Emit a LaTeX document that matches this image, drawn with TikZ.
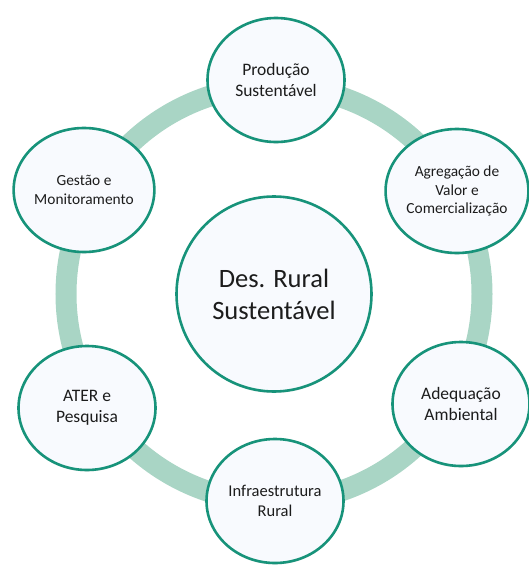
\documentclass[tikz,border=0pt]{standalone}
\usepackage{fontspec}
\setmainfont{Carlito}
\usetikzlibrary{positioning, shadows, shapes.geometric}
\definecolor{ringgreen}{HTML}{A9D5C5}
\definecolor{rimgreen}{HTML}{17937A}
\definecolor{discfill}{HTML}{F8FAFE}
\definecolor{labeltext}{HTML}{1C1C1C}

\begin{document}
\begin{tikzpicture}[x=1pt, y=-1pt,
			disc/.style={ellipse, draw=rimgreen, line width=2.6pt, fill=discfill, minimum width=137pt, minimum height=124pt, inner sep=0pt, align=center, text=labeltext, font=\fontsize{17.5}{21}\selectfont, drop shadow={opacity=0.18, shadow xshift=0pt, shadow yshift=-1.5pt}},
			smalldisc/.style={disc, font=\fontsize{15.4}{18.5}\selectfont},
			hub/.style={disc, circle, minimum size=195pt, font=\fontsize{26.5}{32}\selectfont}]
			\useasboundingbox (0, 0) rectangle (529, 565);
			\coordinate (O) at (274, 294);
			
			\draw[ringgreen, line width=21pt] (O) circle (208pt);
			
			\node [hub] (Hub) at (O) {Des. Rural\\Sustentável};
			
			\node [disc] (Prod) at (276, 80) {Produção\\Sustentável};
			\node [smalldisc] (Agreg) at (457, 191) {Agregação de\\Valor e\\Comercialização};
			\node [disc] (Adeq) at (461, 404) {Adequação\\Ambiental};
			\node [disc, font=\fontsize{16.5}{19.5}\selectfont] (Infra) at (275, 501) {Infraestrutura\\Rural};
			\node [disc] (Ater) at (87, 408) {ATER e\\Pesquisa};
			\node [smalldisc] (Gest) at (84, 190) {Gestão e\\Monitoramento};
		\end{tikzpicture}
\end{document}
